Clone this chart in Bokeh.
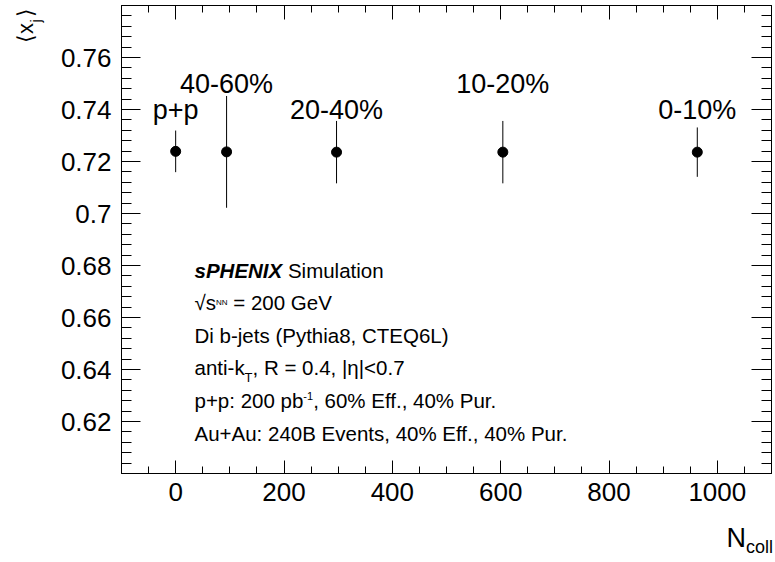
import math

from bokeh.core.properties import value
from bokeh.embed import file_html
from bokeh.models import (ColumnDataSource, CustomJSTickFormatter, FixedTicker,
                          Label, LinearAxis, Range1d)
from bokeh.plotting import figure
from bokeh.resources import INLINE

# Mean dijet momentum balance <x_j> versus the number of binary collisions
classes = ["p+p", "40-60%", "20-40%", "10-20%", "0-10%"]
n_coll = [0, 94, 297, 604, 963]
mean_xj = [0.7239, 0.7237, 0.7236, 0.7236, 0.7236]
xj_err = [0.0080, 0.0215, 0.0120, 0.0120, 0.0095]

x_major = [0, 200, 400, 600, 800, 1000]
y_major = [0.62, 0.64, 0.66, 0.68, 0.70, 0.72, 0.74, 0.76]

X_START, X_END = -100, 1100
Y_START, Y_END = 0.6, 0.78

FONT = "Liberation Sans"
W, H = 775, 562
LEFT, TOP, FW, FH = 121, 5, 650, 468

# Arial / Liberation Sans advance widths (per em) used to lay out rich text
REG = {" ": .278, "%": .889, "(": .333, ")": .333, "+": .584, ",": .278, "-": .333,
       ".": .278, ":": .278, "<": .584, "=": .584, "|": .260, "√": .549, "η": .556,
       "A": .667, "B": .667, "C": .722, "D": .722, "E": .667, "F": .611, "G": .778,
       "L": .556, "N": .722, "P": .667, "Q": .778, "R": .722, "S": .667, "T": .611,
       "V": .667, "a": .556, "b": .556, "c": .5, "e": .556, "f": .278, "h": .556,
       "i": .222, "j": .222, "k": .5, "l": .222, "m": .833, "n": .556, "o": .556,
       "p": .556, "r": .333, "s": .5, "t": .278, "u": .556, "v": .5, "x": .5, "y": .5,
       "⟨": .39, "⟩": .39}
BOLD = {"s": .556, "P": .667, "H": .722, "E": .667, "N": .722, "I": .278, "X": .667, " ": .278}

# text placed in a side panel is drawn this fraction of its size further out
PANEL_SHIFT = 0.38


def text_width(txt, size, style="normal"):
    table = BOLD if "bold" in style else REG
    return sum(table.get(c, .556) for c in txt) * size


def X(px):
    return X_START + (px - LEFT) / FW * (X_END - X_START)


def Y(py):
    return Y_END - (py - TOP) / FH * (Y_END - Y_START)


p = figure(width=W, height=H, output_backend="svg", toolbar_location=None,
           x_range=Range1d(X_START, X_END), y_range=Range1d(Y_START, Y_END),
           x_axis_type=None, y_axis_type=None,
           min_border_left=LEFT, min_border_top=TOP,
           min_border_right=W - LEFT - FW, min_border_bottom=H - TOP - FH)
p.background_fill_color = "white"
p.border_fill_color = "white"
p.outline_line_color = "black"
p.outline_line_width = 1

x_minor = [v for v in range(X_START, X_END + 1, 50) if v not in x_major]
y_minor = [round(Y_START + 0.004 * i, 3) for i in range(46)]
y_minor = [v for v in y_minor if abs(v * 50 - round(v * 50)) > 1e-6]


def style_axis(ax, major_in, minor_in, show_labels):
    ax.major_tick_in = major_in
    ax.major_tick_out = 0
    ax.minor_tick_in = minor_in
    ax.minor_tick_out = 0
    ax.axis_line_color = "black"
    ax.major_tick_line_color = "black"
    ax.minor_tick_line_color = "black"
    if show_labels:
        ax.major_label_text_font = FONT
        ax.major_label_text_font_size = "26px"
        ax.major_label_text_color = "black"
    else:
        ax.formatter = CustomJSTickFormatter(code="return '';")
        ax.major_label_text_font_size = "0px"
        ax.major_label_standoff = 0
    return ax


xb = LinearAxis(ticker=FixedTicker(ticks=x_major, minor_ticks=x_minor))
style_axis(xb, 13, 7, True)
xb.major_label_standoff = 9
p.add_layout(xb, "below")

xt = LinearAxis(ticker=FixedTicker(ticks=x_major, minor_ticks=x_minor))
style_axis(xt, 14, 7, False)
p.add_layout(xt, "above")

yl = LinearAxis(ticker=FixedTicker(ticks=y_major, minor_ticks=y_minor),
                formatter=CustomJSTickFormatter(code="return String(Math.round(tick*100)/100);"))
style_axis(yl, 19, 10, True)
yl.major_label_standoff = 10
p.add_layout(yl, "left")

yr = LinearAxis(ticker=FixedTicker(ticks=y_major, minor_ticks=y_minor))
style_axis(yr, 20, 10, False)
p.add_layout(yr, "right")

# points, error bars and centrality tags
src = ColumnDataSource(dict(
    n=n_coll, y=mean_xj,
    lo=[m - e for m, e in zip(mean_xj, xj_err)],
    hi=[m + e for m, e in zip(mean_xj, xj_err)],
    label=classes,
    label_y=[0.75 if i % 2 else 0.74 for i in range(len(classes))],
))
p.segment(x0="n", y0="lo", x1="n", y1="hi", source=src, line_color="black", line_width=1)
p.scatter(x="n", y="y", source=src, marker="circle", size=10,
          fill_color="black", line_color="black")
p.text(x="n", y="label_y", text="label", source=src, text_font=value(FONT),
       text_font_size="27px", text_align="center", text_baseline="alphabetic",
       text_color="black")


def put(txt, size, px, py, style="normal", angle=0.0, place=None):
    """One text piece with its baseline start at canvas pixel (px, py)."""
    if place == "below":
        py -= PANEL_SHIFT * size
    elif place == "left":
        px -= PANEL_SHIFT * size
    lab = Label(x=X(px), y=Y(py), text=txt, text_font=FONT,
                text_font_size=f"{size}px", text_font_style=style,
                text_align="left", text_baseline="alphabetic",
                text_color="black", angle=angle)
    if place is None:
        p.add_layout(lab)
    else:
        p.add_layout(lab, place)


def rich_line(segments, px, py):
    """Consecutive pieces (text, size, shift, style) along one baseline."""
    pos = 0.0
    for txt, size, shift, style in segments:
        lead = len(txt) - len(txt.lstrip(" "))
        pos += text_width(" " * lead, size, style)
        body = txt.lstrip(" ")
        put(body, size, px + pos, py + shift, style)
        pos += text_width(body, size, style)


S = 20.5
x0 = 194
rich_line([("sPHENIX", S, 0, "bold italic"), (" Simulation", S, 0, "normal")], x0, 270)
rich_line([("√s", S, 0, "normal"), ("NN", 8, 0, "normal"), (" = 200 GeV", S, 0, "normal")], x0, 302)
rich_line([("Di b-jets (Pythia8, CTEQ6L)", S, 0, "normal")], x0, 335)
rich_line([("anti-k", S, 0, "normal"), ("T", 13, 10, "normal"),
           (", R = 0.4, |η|<0.7", S, 0, "normal")], x0, 367)
rich_line([("p+p: 200 pb", S, 0, "normal"), ("-1", 11, -5, "normal"),
           (", 60% Eff., 40% Pur.", S, 0, "normal")], x0, 400)
rich_line([("Au+Au: 240B Events, 40% Eff., 40% Pur.", S, 0, "normal")], x0, 433)

# axis titles, kept in the side panels so they are not clipped to the frame
put("N", 27, 726, 548, place="below")
put("coll", 18, 745.5, 553, place="below")
put("⟨x ⟩", 22, 33, 42.5, angle=math.pi / 2, place="left")
put("j", 14, 41, 42.5 - text_width("⟨x", 22) - 1, angle=math.pi / 2, place="left")

open("out.html", "w").write(file_html(p, INLINE))
